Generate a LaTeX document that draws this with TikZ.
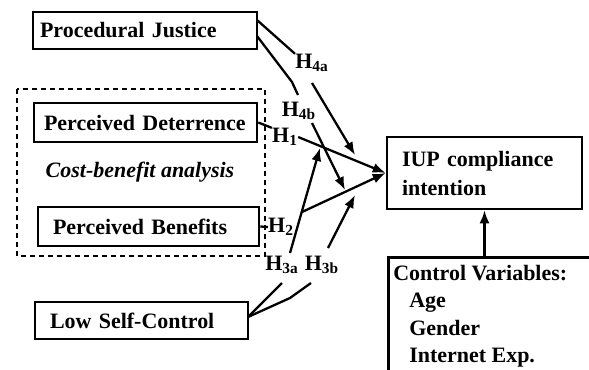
\documentclass[tikz,border=0pt]{standalone}
\usepackage{fontspec}
\setmainfont{Liberation Serif}
\usetikzlibrary{arrows.meta}

\begin{document}
\begin{tikzpicture}[
    x=0.02cm, y=-0.02cm,
    >={Latex[length=0.26cm, width=0.2cm]},
    varbox/.style={
      rectangle, draw=black, line width=1.5pt,
      font=\fontsize{12.5}{15}\selectfont\bfseries,
      align=left, inner ysep=0pt,
    },
    hlab/.style={font=\fontsize{12.5}{15}\selectfont\bfseries, inner sep=0pt},
    link/.style={draw=black, line width=1.3pt},
    groupbox/.style={draw=black, line width=0.9pt, dash pattern=on 0.1cm off 0.08cm},
  ]

  \clip (0,0) rectangle (589,369);

  % ================================================================
  %  CONSTRUCTS
  % ================================================================
  \node[varbox, minimum height=0.74cm, inner xsep=0.14cm, text width=4.2cm]
    (pj) at (145,30.5) {Procedural Justice};

  \draw[groupbox] (17,89) rectangle (265,256);
  \node[varbox, minimum height=0.78cm, inner xsep=0.2cm, text width=4.06cm]
    (pd) at (145.5,122.5) {Perceived Deterrence};
  \node[font=\fontsize{12.5}{15}\selectfont\bfseries\itshape]
    (cba) at (140,172) {Cost-benefit analysis};
  \node[varbox, minimum height=0.78cm, inner xsep=0.3cm, text width=3.82cm]
    (pb) at (148.5,226.5) {Perceived Benefits};

  \node[varbox, minimum height=0.74cm, inner xsep=0.3cm, text width=3.66cm]
    (lsc) at (141.5,320.5) {Low Self-Control};

  \node[varbox, font=\fontsize{12.5}{16.5}\selectfont\bfseries,
    minimum height=1.44cm, inner xsep=0.3cm, text width=3.3cm]
    (iup) at (484.5,173) {IUP compliance\\intention};

  \node[varbox, anchor=north west, inner xsep=0.1cm, inner ysep=0.16cm]
    (cv) at (387,256) {\parbox[t][3cm][t]{5cm}{\fontsize{12.5}{15.6}\selectfont
      Control Variables:\\
      \hspace*{0.32cm}Age\\
      \hspace*{0.32cm}Gender\\
      \hspace*{0.32cm}Internet Exp.}};

  % ================================================================
  %  HYPOTHESIS LABELS
  % ================================================================
  \node[hlab] (h4a) at (312,63) {H\textsubscript{4a}};
  \node[hlab] (h4b) at (299,111) {H\textsubscript{4b}};
  \node[hlab] (h1) at (285,137) {H\textsubscript{1}};
  \node[hlab] (h2) at (281,227) {H\textsubscript{2}};
  \node[hlab] (h3a) at (282,265) {H\textsubscript{3a}};
  \node[hlab] (h3b) at (322,265) {H\textsubscript{3b}};

  % -- line ends near labels and on paths --
  \coordinate (s4a) at (257,20);
  \coordinate (u4a) at (312,83);
  \coordinate (t4a) at (355,155);
  \coordinate (s4b) at (257,36);
  \coordinate (k4b) at (292,82);
  \coordinate (e4b) at (298,95);
  \coordinate (u4b) at (312,123);
  \coordinate (t4b) at (345,190);
  \coordinate (j2) at (302,212);
  \coordinate (s3) at (248,317);
  \coordinate (e3a) at (282,283);
  \coordinate (u3a) at (290,253);
  \coordinate (t3a) at (320,148);
  \coordinate (k3b) at (290,298);
  \coordinate (e3b) at (311,283);
  \coordinate (u3b) at (328,248);
  \coordinate (t3b) at (355,195);

  % ================================================================
  %  PATHS
  % ================================================================
  \draw[link] (s4a) -- (h4a.north west);
  \draw[link, ->] (u4a) -- (t4a);
  \draw[link] (s4b) -- (k4b) -- (e4b);
  \draw[link, ->] (u4b) -- (t4b);

  \draw[link] (pd.east) -- (h1.north west);
  \draw[link, ->] (h1.east) -- (iup.west);
  \draw[link] (pb.east) -- (h2.west);
  \draw[link, ->] (j2) -- (iup.west);

  \draw[link] (s3) -- (e3a);
  \draw[link, ->] (u3a) -- (t3a);
  \draw[link] (s3) -- (k3b) -- (e3b);
  \draw[link, ->] (u3b) -- (t3b);

  \draw[link, ->] (iup.south |- cv.north) -- (iup.south);

\end{tikzpicture}
\end{document}
